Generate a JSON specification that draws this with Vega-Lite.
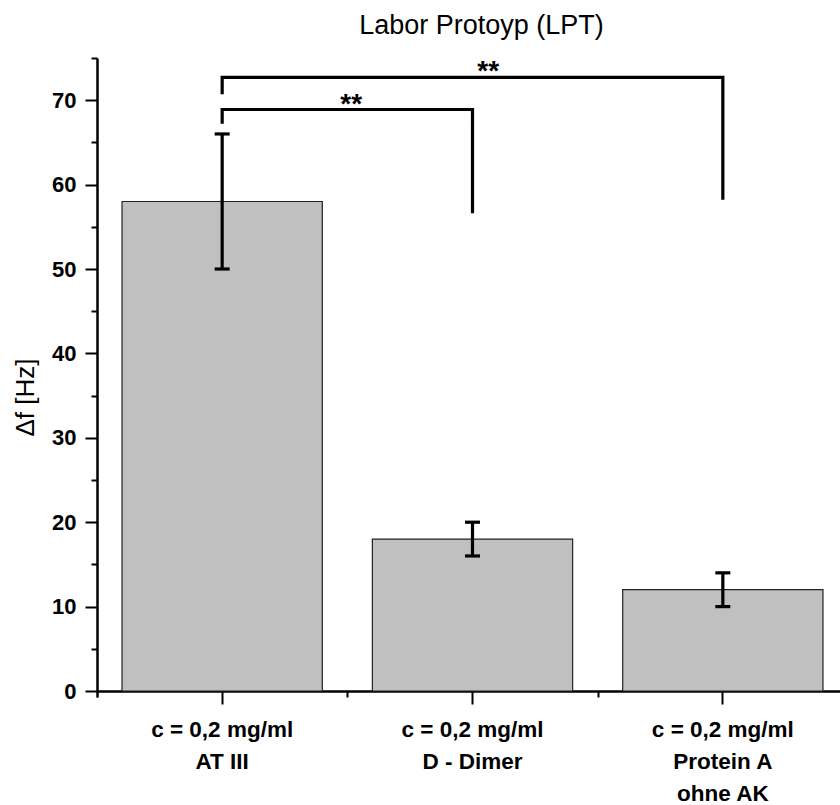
{
  "$schema": "https://vega.github.io/schema/vega-lite/v6.json",
  "autosize": {"type": "none"},
  "padding": {"left": 97, "top": 58, "right": 0, "bottom": 114},
  "width": 743,
  "height": 633,
  "config": {
    "font": "Liberation Sans",
    "view": {"stroke": null},
    "axis": {"domainColor": "black", "tickColor": "black", "labelColor": "black", "titleColor": "black", "grid": false}
  },
  "title": {
    "text": "Labor Protoyp (LPT)",
    "fontSize": 27,
    "fontWeight": "normal",
    "font": "Liberation Sans",
    "color": "black",
    "anchor": "middle",
    "frame": "group",
    "dx": 13,
    "offset": 17
  },
  "datasets": {
    "bars": [
      {"cat": "AT III", "val": 58, "lo": 50, "hi": 66},
      {"cat": "D - Dimer", "val": 18, "lo": 16, "hi": 20},
      {"cat": "Protein A|ohne AK", "val": 12, "lo": 10, "hi": 14}
    ],
    "brackets": [
      {"pair": 1, "cat": "AT III", "y": 67.2, "o": 1},
      {"pair": 1, "cat": "AT III", "y": 68.9, "o": 2},
      {"pair": 1, "cat": "D - Dimer", "y": 68.9, "o": 3},
      {"pair": 1, "cat": "D - Dimer", "y": 56.6, "o": 4},
      {"pair": 2, "cat": "AT III", "y": 70.7, "o": 1},
      {"pair": 2, "cat": "AT III", "y": 72.7, "o": 2},
      {"pair": 2, "cat": "Protein A|ohne AK", "y": 72.7, "o": 3},
      {"pair": 2, "cat": "Protein A|ohne AK", "y": 58.2, "o": 4}
    ]
  },
  "resolve": {"axis": {"x": "independent"}},
  "layer": [
    {
      "data": {"name": "bars"},
      "mark": {"type": "bar", "fill": "#c0c0c0", "stroke": "#222222", "strokeWidth": 1.2},
      "encoding": {
        "x": {
          "field": "cat", "type": "nominal", "sort": null,
          "scale": {"range": [0, 751], "paddingInner": 0.2, "paddingOuter": 0.1},
          "axis": {
            "orient": "bottom",
            "title": null,
            "labelAngle": 0,
            "labelExpr": "split('c = 0,2 mg/ml|' + datum.label, '|')",
            "labelFontSize": 22.5,
            "labelFontWeight": "bold",
            "labelLineHeight": 32,
            "labelPadding": 14,
            "labelBaseline": "top",
            "tickSize": 13,
            "tickWidth": 2,
            "domainWidth": 2.5
          }
        },
        "y": {
          "field": "val", "type": "quantitative", "title": "Δf [Hz]",
          "scale": {"domain": [0, 75], "nice": false, "zero": true},
          "axis": {
            "title": "Δf [Hz]",
            "titleFontSize": 26,
            "titleFontWeight": "normal",
            "titleX": -72,
            "titleY": 339,
            "titleAlign": "center",
            "titleBaseline": "middle",
            "values": [0, 5, 10, 15, 20, 25, 30, 35, 40, 45, 50, 55, 60, 65, 70, 75],
            "labelExpr": "datum.value % 10 === 0 ? datum.label : ''",
            "labelFontSize": 22,
            "labelFontWeight": "bold",
            "labelPadding": 9,
            "tickSize": {"condition": {"test": "datum.value % 10 !== 0", "value": 6}, "value": 12},
            "tickWidth": 2,
            "domainWidth": 2.5
          }
        }
      }
    },
    {
      "data": {"name": "bars"},
      "mark": {"type": "rule", "strokeWidth": 3.2, "color": "black"},
      "encoding": {
        "x": {
          "field": "cat", "type": "nominal", "sort": null,
          "axis": {
            "orient": "bottom",
            "title": null,
            "labels": false,
            "domain": false,
            "tickSize": 6,
            "tickWidth": 2,
            "bandPosition": 0,
            "tickOffset": -25,
            "tickExtra": true
          }
        },
        "y": {"field": "lo", "type": "quantitative", "title": "Δf [Hz]"},
        "y2": {"field": "hi"}
      }
    },
    {
      "data": {"name": "bars"},
      "mark": {"type": "tick", "thickness": 3.2, "size": 15, "color": "black", "opacity": 1},
      "encoding": {
        "x": {"field": "cat", "type": "nominal", "sort": null, "axis": null},
        "y": {"field": "lo", "type": "quantitative", "title": "Δf [Hz]"}
      }
    },
    {
      "data": {"name": "bars"},
      "mark": {"type": "tick", "thickness": 3.2, "size": 15, "color": "black", "opacity": 1},
      "encoding": {
        "x": {"field": "cat", "type": "nominal", "sort": null, "axis": null},
        "y": {"field": "hi", "type": "quantitative", "title": "Δf [Hz]"}
      }
    },
    {
      "data": {"name": "brackets"},
      "mark": {"type": "line", "strokeWidth": 3.2, "color": "black", "strokeJoin": "miter"},
      "encoding": {
        "x": {"field": "cat", "type": "nominal", "sort": null, "axis": null},
        "y": {"field": "y", "type": "quantitative", "title": "Δf [Hz]"},
        "detail": {"field": "pair", "type": "nominal"},
        "order": {"field": "o", "type": "quantitative"}
      }
    },
    {
      "data": {"values": [{"cat": "AT III", "y": 68.5, "label": "**"}]},
      "mark": {"type": "text", "fontSize": 28, "fontWeight": "bold", "color": "black", "align": "center", "baseline": "alphabetic", "dx": 129},
      "encoding": {
        "x": {"field": "cat", "type": "nominal", "axis": null},
        "y": {"field": "y", "type": "quantitative", "title": "Δf [Hz]"},
        "text": {"field": "label"}
      }
    },
    {
      "data": {"values": [{"cat": "AT III", "y": 72.4, "label": "**"}]},
      "mark": {"type": "text", "fontSize": 28, "fontWeight": "bold", "color": "black", "align": "center", "baseline": "alphabetic", "dx": 266},
      "encoding": {
        "x": {"field": "cat", "type": "nominal", "axis": null},
        "y": {"field": "y", "type": "quantitative", "title": "Δf [Hz]"},
        "text": {"field": "label"}
      }
    }
  ]
}
